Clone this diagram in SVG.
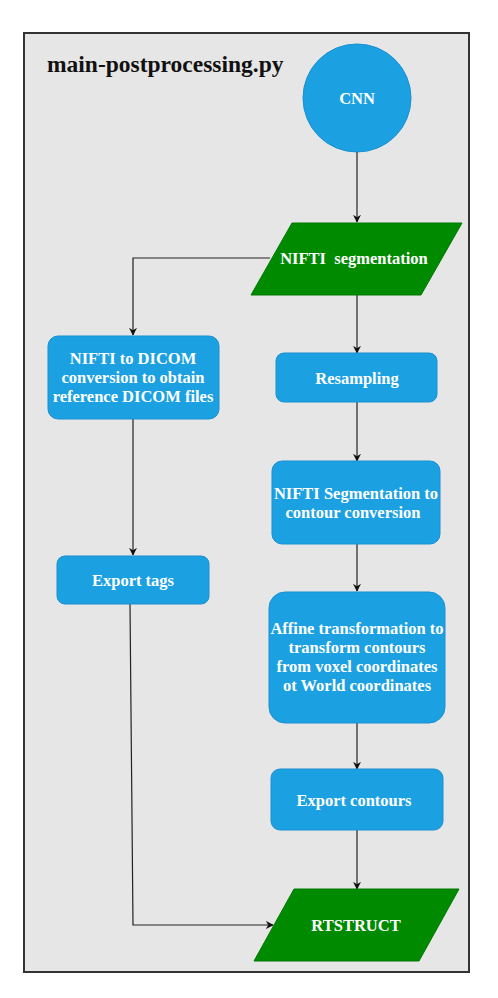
<svg xmlns="http://www.w3.org/2000/svg" width="498" height="998" viewBox="0 0 498 998">
<defs>
<style>
.frame{fill:#e6e6e6;stroke:#333;stroke-width:2}
.proc{fill:#1ba1e2;stroke:#1a8fd0;stroke-width:1}
.io{fill:#008a00;stroke:#007a00;stroke-width:1}
.lbl{font-family:"Liberation Serif","Times New Roman",serif;font-weight:bold;font-size:16.5px;fill:#ffffff;text-anchor:middle;white-space:pre}
.title{font-family:"Liberation Serif","Times New Roman",serif;font-weight:bold;font-size:23.5px;fill:#111}
.edge{fill:none;stroke:#222;stroke-width:1.2}
</style>
<marker id="arr" viewBox="0 0 10 10" refX="9" refY="5" markerWidth="8" markerHeight="8" markerUnits="userSpaceOnUse" orient="auto">
<path d="M0,0 L10,5 L0,10 L3,5 Z" fill="#111"/>
</marker>
</defs>
<rect width="498" height="998" fill="#ffffff"/>
<g id="frame">
<rect class="frame" x="24" y="33" width="445" height="939"/>
<text class="title" x="47" y="72">main-postprocessing.py</text>
</g>
<g id="connectors">
<path class="edge" marker-end="url(#arr)" d="M357 152 L357 222"/>
<path class="edge" marker-end="url(#arr)" d="M270 258 L133 258 L133 335"/>
<path class="edge" marker-end="url(#arr)" d="M357 295 L357 353"/>
<path class="edge" marker-end="url(#arr)" d="M357 402 L357 461"/>
<path class="edge" marker-end="url(#arr)" d="M357 544 L357 591"/>
<path class="edge" marker-end="url(#arr)" d="M357 723 L357 769"/>
<path class="edge" marker-end="url(#arr)" d="M357 830 L357 889"/>
<path class="edge" marker-end="url(#arr)" d="M133 419 L133 555"/>
<path class="edge" marker-end="url(#arr)" d="M130 604 L133 925 L273 925"/>
</g>
<g id="cnn">
<circle class="proc" cx="357" cy="98" r="54"/>
<text class="lbl" x="357" y="104">CNN</text>
</g>
<g id="nifti-seg">
<polygon class="io" points="292,223 462,223 421,295 251,295"/>
<text class="lbl" x="354" y="264" xml:space="preserve">NIFTI  segmentation</text>
</g>
<g id="nifti-dicom">
<rect class="proc" x="48" y="336" width="171" height="83" rx="10"/>
<text class="lbl" x="133" y="364">NIFTI to DICOM</text>
<text class="lbl" x="133" y="383">conversion to obtain</text>
<text class="lbl" x="133" y="402">reference DICOM files</text>
</g>
<g id="resampling">
<rect class="proc" x="276" y="353" width="161" height="49" rx="8"/>
<text class="lbl" x="357" y="384">Resampling</text>
</g>
<g id="seg-contour">
<rect class="proc" x="272" y="461" width="168" height="83" rx="10"/>
<text class="lbl" x="356" y="499">NIFTI Segmentation to</text>
<text class="lbl" x="353" y="518">contour conversion</text>
</g>
<g id="affine">
<rect class="proc" x="269" y="592" width="176" height="131" rx="16"/>
<text class="lbl" x="357" y="634">Affine transformation to</text>
<text class="lbl" x="357" y="653">transform contours</text>
<text class="lbl" x="357" y="672">from voxel coordinates</text>
<text class="lbl" x="357" y="691">ot World coordinates</text>
</g>
<g id="export-tags">
<rect class="proc" x="57" y="556" width="152" height="48" rx="8"/>
<text class="lbl" x="133" y="586">Export tags</text>
</g>
<g id="export-contours">
<rect class="proc" x="271" y="769" width="172" height="61" rx="9"/>
<text class="lbl" x="354" y="806">Export contours</text>
</g>
<g id="rtstruct">
<polygon class="io" points="294,889 459,889 419,961 254,961"/>
<text class="lbl" x="356" y="931">RTSTRUCT</text>
</g>
</svg>
